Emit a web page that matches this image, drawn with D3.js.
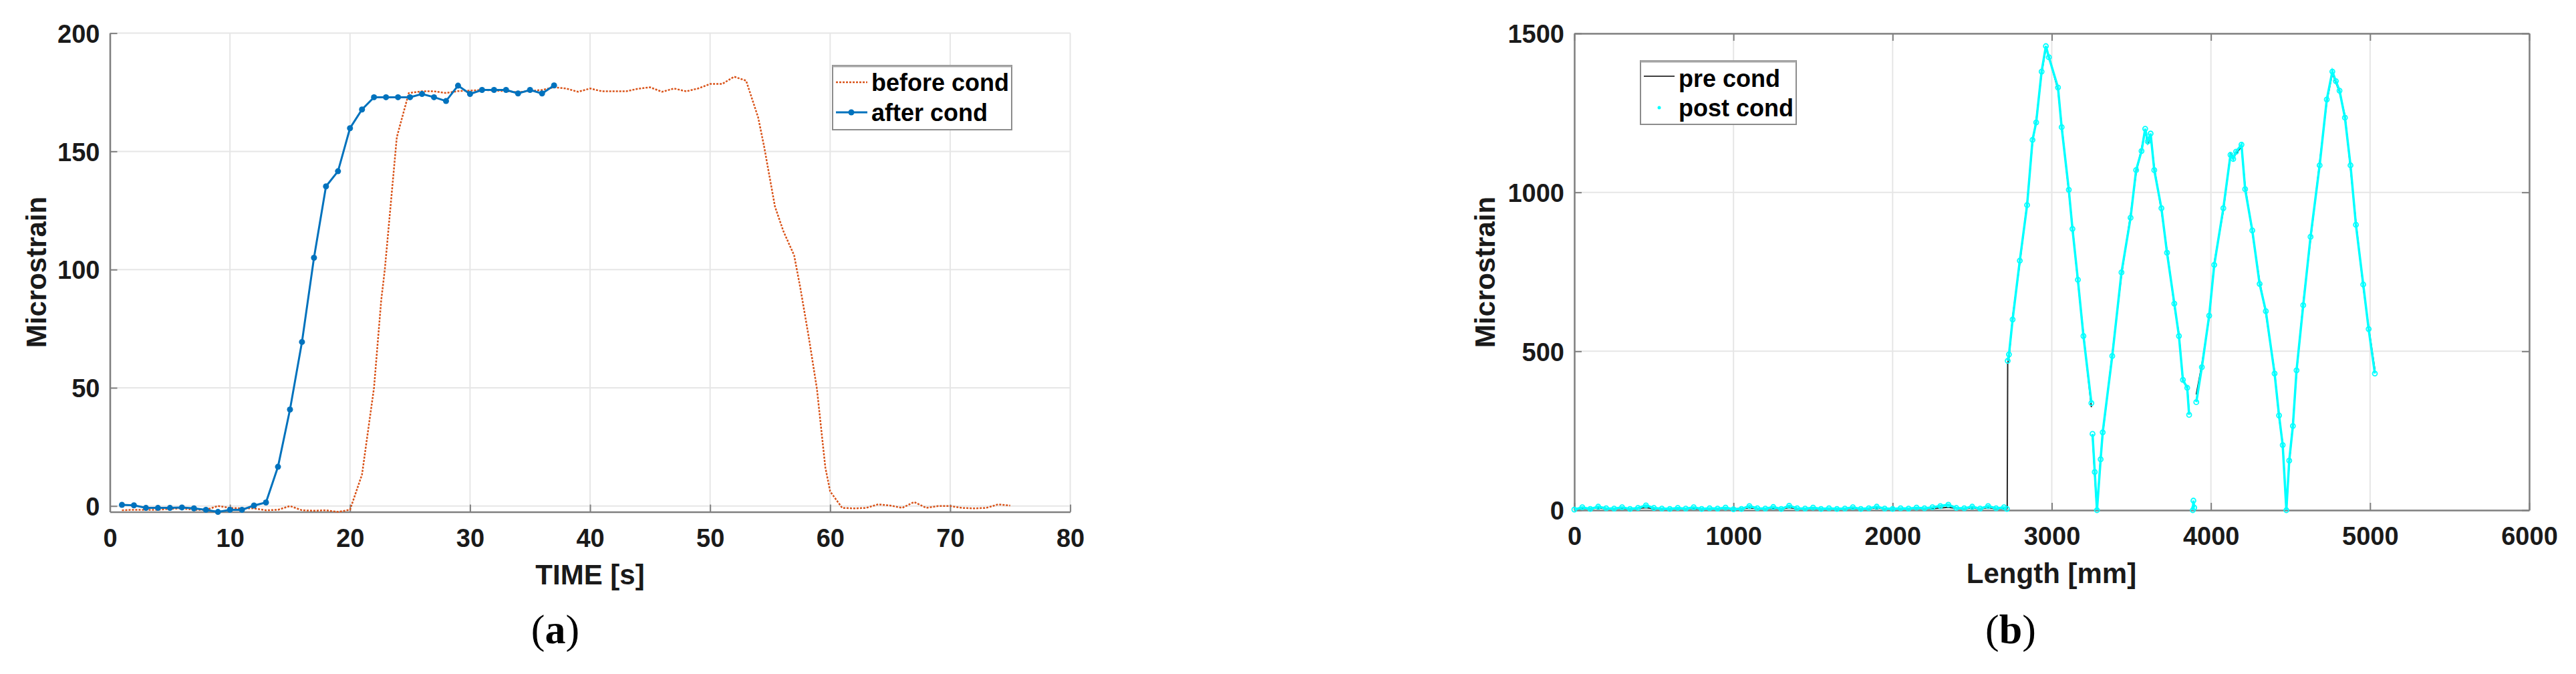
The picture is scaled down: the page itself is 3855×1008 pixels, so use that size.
<!DOCTYPE html>
<html>
<head>
<meta charset="utf-8">
<script src="https://cdn.jsdelivr.net/npm/d3@7"></script>
<style>
  body { margin: 0; background: #fff; }
  svg { display: block; }
</style>
</head>
<body>
<div id="fig"></div>
<script>
/* (a) strain vs time, before / after conditioning */
const timeAfter = [1, 2, 3, 4, 5, 6, 7, 8, 9, 10, 11, 12, 13, 14, 15, 16, 17, 18, 19, 20,
  21, 22, 23, 24, 25, 26, 27, 28, 29, 30, 31, 32, 33, 34, 35, 36, 37]
const strainAfter = [0.5, 0.3, -0.8, -0.8, -0.8, -0.6, -1, -1.6, -2.5, -1.6, -1.6, 0.2, 1.5, 16.6, 40.8, 69.4,
  105, 135.2, 141.6, 159.8, 167.7, 172.9, 172.9, 172.9, 172.9, 174.3, 172.9, 171.3, 177.8, 174.3,
  176, 176, 176, 174.5, 176, 174.5, 177.9]

const timeBefore = [1, 2, 3, 4, 5, 6, 7, 8, 9, 10, 11, 12, 13, 14, 15, 16, 17, 18, 19, 20,
  21, 22, 22.6, 22.9, 23.9, 24.9,
  26, 27, 28, 29, 30, 31, 32, 33, 34, 35, 36, 37, 38, 39, 40, 41, 42, 43, 44, 45, 46, 47, 48, 49, 50, 51, 52, 53,
  54, 54.5, 55.4, 56.1, 57, 57.5, 58.2, 58.9, 59.3, 59.6, 60,
  61, 62, 63, 64, 65, 66, 67, 68, 69, 70, 71, 72, 73, 74, 75]
const strainBefore = [-1.8, -1.6, -1.6, -1.6, -1.2, -1.0, -1.6, -1.6, 0, -0.8, -1, -1, -1.8, -1.6, 0, -1.8, -2, -1.8, -2.5, -1.6,
  13.3, 50, 87, 100, 156, 174.7,
  175.4, 175.4, 174.7, 175.5, 175.7, 176, 175.7, 175.5, 175, 175.5, 176, 177.1, 176.6, 175.2, 176.6, 175.4, 175.4, 175.4,
  176.5, 177.1, 175.2, 176.6, 175.4, 176.6, 178.5, 178.5, 181.6, 179.9,
  164.4, 152, 126.7, 116.3, 106, 92.7, 72, 49.5, 30.4, 16.3, 6.2,
  -0.8, -1, -0.8, 0.7, 0.2, -0.8, 1.7, -0.8, 0, 0, -0.8, -1, -0.8, 0.7, 0.2]

const timeTicks = [0, 10, 20, 30, 40, 50, 60, 70, 80]
const strainTicksA = [0, 50, 100, 150, 200]

/* (b) strain along the length, pre / post conditioning */
const flatLength = [0, 50, 100, 150, 200, 250, 300, 350, 400, 450, 500, 550, 600, 650, 700, 750, 800, 850, 900, 950,
  1000, 1050, 1100, 1150, 1200, 1250, 1300, 1350, 1400, 1450, 1500, 1550, 1600, 1650, 1700, 1750, 1800, 1850, 1900, 1950,
  2000, 2050, 2100, 2150, 2200, 2250, 2300, 2350, 2400, 2450, 2500, 2550, 2600, 2650, 2700]
const preFlat = [4, 6, 5, 7, 5, 6, 5, 4, 6, 8, 5, 6, 4, 5, 6, 5, 4, 5, 6, 5,
  4, 5, 7, 6, 5, 6, 4, 8, 5, 6, 5, 4, 5, 4, 5, 6, 4, 5, 7, 5,
  4, 5, 6, 5, 6, 5, 7, 9, 6, 5, 7, 5, 8, 5, 6]
const postFlat = [2, 9, 4, 11, 6, 5, 9, 4, 7, 15, 7, 5, 4, 7, 5, 9, 4, 6, 5, 8,
  3, 4, 13, 6, 5, 10, 4, 14, 6, 5, 8, 4, 6, 4, 5, 9, 4, 6, 11, 5,
  4, 6, 5, 8, 6, 9, 13, 17, 7, 6, 11, 5, 13, 6, 9]

const peakLength = [2718, 2720, 2723, 2731, 2754, 2799, 2845, 2879, 2902, 2936, 2963, 2982, 3039, 3062, 3107, 3130,
  3164, 3199, 3249, 3252, 3256, 3270, 3284, 3307, 3320, 3380, 3438, 3495, 3530, 3564, 3587, 3603, 3621, 3644,
  3689, 3724, 3770, 3799, 3824, 3851, 3863, 3875, 3886, 3890, 3895, 3900, 3908, 3943, 3989, 4021, 4078, 4123,
  4140, 4158, 4192, 4215, 4260, 4306, 4345, 4400, 4428, 4451, 4474, 4492, 4515, 4538, 4580, 4626, 4683, 4728,
  4763, 4785, 4808, 4842, 4877, 4911, 4957, 4991, 5030]
const prePeak = [5, 6, 461, 480, 607, 778, 965, 1159, 1226, 1375, 1454, 1428, 1323, 1211, 1002, 890,
  719, 554, 324, null, 236, 110, 0, 165, 240, 490, 741, 928, 1062, 1137, 1196, 1151, 1181, 1077,
  943, 816, 644, 554, 405, 390, 307, null, null, null, null, null, 364, 457, 607, 778, 943, 1122,
  1108, 1122, 1144, 1017, 875, 719, 620, 435, 292, 210, 0, 150, 270, 435, 652, 853, 1092, 1286,
  1375, 1345, 1316, 1241, 1077, 905, 704, 575, 442]
const postPeak = [4, null, 470, 490, 600, 785, 960, 1165, 1220, 1380, 1460, 1425, 1330, 1205, 1008, 885,
  725, 548, 337, null, 240, 120, 0, 160, 245, 485, 748, 920, 1070, 1130, 1200, 1160, 1185, 1070,
  950, 810, 650, 548, 410, 385, 300, null, 0, 30, 8, null, 340, 450, 612, 772, 950, 1118,
  1105, 1128, 1150, 1010, 880, 712, 626, 430, 298, 205, 0, 156, 265, 440, 645, 860, 1085, 1292,
  1380, 1350, 1320, 1235, 1085, 898, 710, 570, 430]

const lengthTicks = [0, 1000, 2000, 3000, 4000, 5000, 6000]
const strainTicksB = [0, 500, 1000, 1500]

const sans = '"Liberation Sans", Arial, Helvetica, sans-serif'
const serif = '"Liberation Serif", "Times New Roman", serif'
const axisGray = "#808080"

const svg = d3.select("#fig").append("svg")
  .attr("width", 3855)
  .attr("height", 1008)
  .style("background", "#fff")

/* grid + axes for one panel. box = draw top/right edges with ticks */
function frame(x, y, xTicks, yTicks, box) {
  const [x0, x1] = x.range(), [y0, y1] = y.range()
  const g = svg.append("g")
  const fmt = d3.format("d")

  // light grid
  g.append("g").selectAll("line").data(xTicks).join("line")
    .attr("x1", d => x(d)).attr("x2", d => x(d))
    .attr("y1", y0).attr("y2", y1)
    .attr("stroke", "#e6e6e6").attr("stroke-width", 2)
  g.append("g").selectAll("line").data(yTicks).join("line")
    .attr("x1", x0).attr("x2", x1)
    .attr("y1", d => y(d)).attr("y2", d => y(d))
    .attr("stroke", "#e6e6e6").attr("stroke-width", 2)

  g.append("g")
    .attr("transform", `translate(0,${y0})`)
    .call(d3.axisBottom(x).tickValues(xTicks).tickFormat(fmt)
      .tickSizeInner(-11).tickSizeOuter(0).tickPadding(25))
  const left = g.append("g")
    .attr("transform", `translate(${x0},0)`)
    .call(d3.axisLeft(y).tickValues(yTicks).tickFormat(fmt)
      .tickSizeInner(-11).tickSizeOuter(0).tickPadding(15))

  if (box) {
    g.append("g").attr("transform", `translate(0,${y1})`)
      .call(d3.axisTop(x).tickValues(xTicks).tickSizeInner(-11).tickSizeOuter(0).tickFormat(""))
    g.append("g").attr("transform", `translate(${x1},0)`)
      .call(d3.axisRight(y).tickValues(yTicks).tickSizeInner(-11).tickSizeOuter(0).tickFormat(""))
  }

  g.selectAll(".domain").attr("stroke", axisGray).attr("stroke-width", 2.5)
  g.selectAll(".tick line").attr("stroke", axisGray).attr("stroke-width", 2)
  g.selectAll(".tick text")
    .attr("font-family", sans).attr("font-size", 38).attr("font-weight", "bold")
    .attr("fill", "#1a1a1a")
  left.selectAll(".tick text").attr("dy", "0.36em")
  return g
}

function yLabel(x, y, txt) {
  svg.append("text")
    .attr("transform", `translate(${x},${y}) rotate(-90)`)
    .attr("dy", "0.36em")
    .attr("text-anchor", "middle")
    .attr("font-family", sans).attr("font-size", 42).attr("font-weight", "bold")
    .attr("fill", "#1a1a1a")
    .text(txt)
}

function xLabel(x, y, txt) {
  svg.append("text")
    .attr("x", x).attr("y", y)
    .attr("text-anchor", "middle")
    .attr("font-family", sans).attr("font-size", 42).attr("font-weight", "bold")
    .attr("fill", "#1a1a1a")
    .text(txt)
}

function panelTag(x, y, letter) {
  const t = svg.append("text")
    .attr("x", x).attr("y", y)
    .attr("text-anchor", "middle")
    .attr("font-family", serif).attr("font-size", 62)
    .attr("fill", "#000")
  t.append("tspan").text("(")
  t.append("tspan").attr("font-weight", "bold").text(letter)
  t.append("tspan").text(")")
}

function legendBox(x, y, w, h) {
  svg.append("rect")
    .attr("x", x).attr("y", y).attr("width", w).attr("height", h)
    .attr("fill", "#fff").attr("stroke", "#8c8c8c").attr("stroke-width", 2)
  svg.append("line")
    .attr("x1", x).attr("x2", x + w).attr("y1", y + 1).attr("y2", y + 1)
    .attr("stroke", "#a6a6a6").attr("stroke-width", 3)
}

function legendText(x, y, txt) {
  svg.append("text")
    .attr("x", x).attr("y", y)
    .attr("font-family", sans).attr("font-size", 36).attr("font-weight", "bold")
    .attr("fill", "#000")
    .text(txt)
}

/* ---------- panel (a) ---------- */
const xa = d3.scaleLinear().domain([0, 80]).range([164.5, 1601.6])
const ya = d3.scaleLinear().domain([-2.5, 200]).range([765.6, 49.6])

frame(xa, ya, timeTicks, strainTicksA, false)

const beforeData = timeBefore.map((t, i) => [t, strainBefore[i]])
const afterData = timeAfter.map((t, i) => [t, strainAfter[i]])

const lineA = d3.line().x(d => xa(d[0])).y(d => ya(d[1]))

svg.append("path")
  .datum(beforeData)
  .attr("d", lineA)
  .attr("fill", "none")
  .attr("stroke", "#D95319")
  .attr("stroke-width", 2.5)
  .attr("stroke-dasharray", "3,2")

svg.append("path")
  .datum(afterData)
  .attr("d", lineA)
  .attr("fill", "none")
  .attr("stroke", "#0072BD")
  .attr("stroke-width", 3)

svg.append("g")
  .selectAll("circle")
  .data(afterData)
  .join("circle")
  .attr("cx", d => xa(d[0]))
  .attr("cy", d => ya(d[1]))
  .attr("r", 4.5)
  .attr("fill", "#0072BD")

yLabel(54, 407, "Microstrain")
xLabel(883, 874, "TIME [s]")
panelTag(831, 962, "a")

legendBox(1246, 98, 268, 96)
svg.append("line")
  .attr("x1", 1251).attr("x2", 1298).attr("y1", 123).attr("y2", 123)
  .attr("stroke", "#D95319").attr("stroke-width", 2.5).attr("stroke-dasharray", "3,2")
svg.append("line")
  .attr("x1", 1251).attr("x2", 1298).attr("y1", 168).attr("y2", 168)
  .attr("stroke", "#0072BD").attr("stroke-width", 3)
svg.append("circle").attr("cx", 1274).attr("cy", 168).attr("r", 4.5).attr("fill", "#0072BD")
legendText(1304, 136, "before cond")
legendText(1304, 181, "after cond")

/* ---------- panel (b) ---------- */
const xb = d3.scaleLinear().domain([0, 6000]).range([2356, 3785])
const yb = d3.scaleLinear().domain([0, 1500]).range([763, 50])

frame(xb, yb, lengthTicks, strainTicksB, true)

const preData = flatLength.map((l, i) => [l, preFlat[i]])
  .concat(peakLength.map((l, i) => [l, prePeak[i]]))
const postData = flatLength.map((l, i) => [l, postFlat[i]])
  .concat(peakLength.map((l, i) => [l, postPeak[i]]))

const lineB = d3.line()
  .defined(d => d[1] != null)
  .x(d => xb(d[0])).y(d => yb(d[1]))

svg.append("path")
  .datum(preData)
  .attr("d", lineB)
  .attr("fill", "none")
  .attr("stroke", "#262626")
  .attr("stroke-width", 2)

svg.append("path")
  .datum(postData)
  .attr("d", lineB)
  .attr("fill", "none")
  .attr("stroke", "#00FFFF")
  .attr("stroke-width", 3.5)

svg.append("g")
  .selectAll("circle")
  .data(postData.filter(d => d[1] != null))
  .join("circle")
  .attr("cx", d => xb(d[0]))
  .attr("cy", d => yb(d[1]))
  .attr("r", 3.5)
  .attr("fill", "none")
  .attr("stroke", "#00FFFF")
  .attr("stroke-width", 1.8)

yLabel(2222, 407, "Microstrain")
xLabel(3070, 872, "Length [mm]")
panelTag(3009, 962, "b")

legendBox(2455, 91, 233, 95)
svg.append("line")
  .attr("x1", 2460).attr("x2", 2506).attr("y1", 114).attr("y2", 114)
  .attr("stroke", "#404040").attr("stroke-width", 2)
svg.append("circle").attr("cx", 2483).attr("cy", 161).attr("r", 2.5).attr("fill", "#00FFFF")
legendText(2512, 130, "pre cond")
legendText(2512, 174, "post cond")
</script>
</body>
</html>
